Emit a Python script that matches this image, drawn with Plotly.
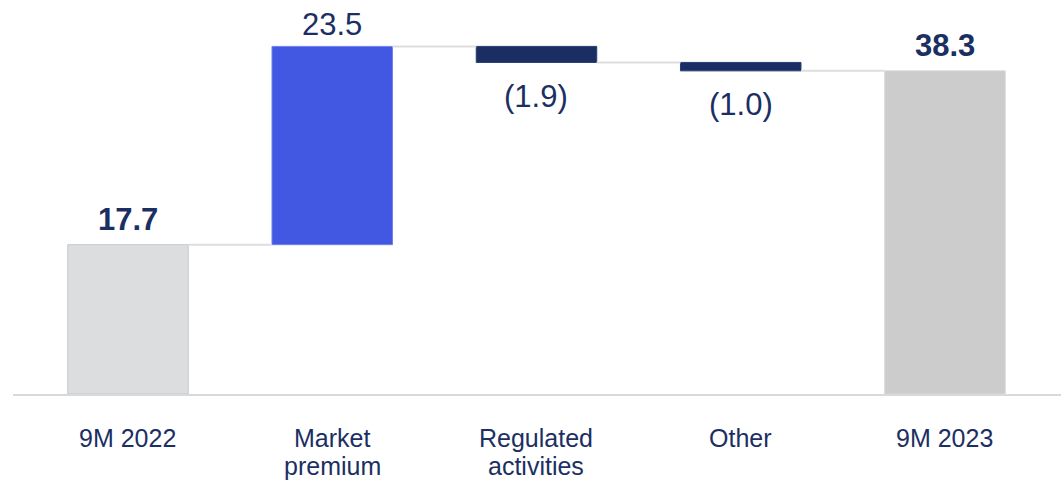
import plotly.graph_objects as go

# Bridge data: opening total, changes, closing total
categories = ["9M 2022", "Market premium", "Regulated activities", "Other", "9M 2023"]
values = [17.7, 23.5, -1.9, -1.0, 38.3]
kinds = ["total", "delta", "delta", "delta", "total"]
tick_lines = [["9M 2022"], ["Market", "premium"], ["Regulated", "activities"], ["Other"], ["9M 2023"]]

# Styling
FONT = "Liberation Sans, Arial, sans-serif"
NAVY = "#1C2F62"
fill_colors = ["#DCDDDF", "#4258E2", "#1B2E63", "#1B2E63", "#CCCCCC"]
edge_colors = ["#C8C8C8", "#6F82EA", "#2A3D70", "#2A3D70", "#D9D9D9"]
BAR_W = 0.59

# Floating-bar geometry from the running total
bases, heights, ends = [], [], []
running = 0.0
for v, k in zip(values, kinds):
    if k == "total":
        bases.append(0.0)
        heights.append(v)
        running = v
    else:
        bases.append(running)
        heights.append(v)
        running += v
    ends.append(running)

xs = list(range(len(categories)))

fig = go.Figure()

# Connector lines between consecutive bars at the running level
cx, cy = [], []
for i in range(len(xs) - 1):
    cx += [xs[i] + BAR_W / 2, xs[i + 1] - BAR_W / 2, None]
    cy += [ends[i], ends[i], None]
fig.add_trace(go.Scatter(x=cx, y=cy, mode="lines",
                         line=dict(color="#DEDEDE", width=2),
                         hoverinfo="skip", showlegend=False))

fig.add_trace(go.Bar(
    x=xs, y=heights, base=bases, width=BAR_W,
    marker=dict(color=fill_colors, line=dict(color=edge_colors, width=1)),
    customdata=categories, hovertemplate="%{customdata}: %{y}<extra></extra>",
    showlegend=False,
))

# Value labels
annotations = []
for i, (v, k) in enumerate(zip(values, kinds)):
    if k == "total":
        txt, shift = f"<b>{v:.1f}</b>", 25
    elif v >= 0:
        txt, shift = f"{v:.1f}", 22
    else:
        txt, shift = f"({abs(v):.1f})", -34
    annotations.append(dict(
        x=xs[i], y=ends[i], xref="x", yref="y", text=txt, showarrow=False,
        yanchor="middle", xanchor="center", yshift=shift,
        font=dict(family=FONT, size=31, color=NAVY),
    ))

# Category labels, one annotation per line for tight line spacing
for i, lines in enumerate(tick_lines):
    for j, line in enumerate(lines):
        annotations.append(dict(
            x=xs[i], y=0, xref="x", yref="paper", text=line, showarrow=False,
            yanchor="middle", xanchor="center", yshift=-44 - 28 * j,
            font=dict(family=FONT, size=25, color=NAVY),
        ))

fig.update_layout(
    width=1061, height=481,
    margin=dict(l=13, r=0, t=0, b=87),
    plot_bgcolor="white", paper_bgcolor="white",
    showlegend=False,
    annotations=annotations,
    xaxis=dict(range=[-0.563, 4.568], showline=True, linecolor="#D9D9D9",
               linewidth=1.5, showgrid=False, zeroline=False,
               showticklabels=False, ticks="", fixedrange=True),
    yaxis=dict(range=[0, 46.7], visible=False, fixedrange=True),
)

fig.write_html("out.html")
